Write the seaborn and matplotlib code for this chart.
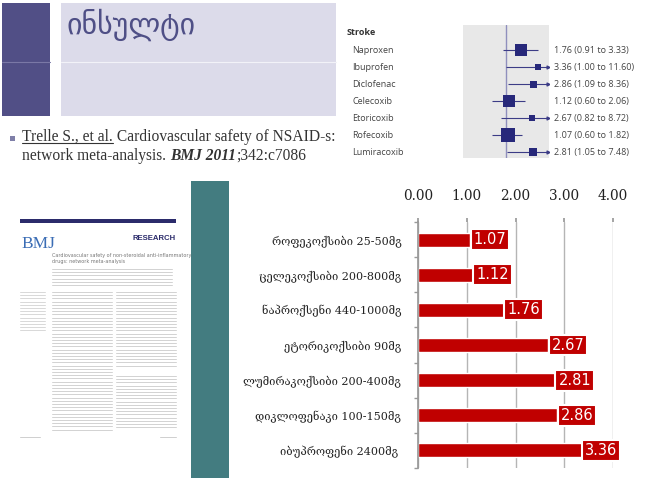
import matplotlib
matplotlib.use("Agg")
import matplotlib.pyplot as plt
import seaborn as sns
import numpy as np
import pandas as pd
from matplotlib.patches import Rectangle

# bar chart data (relative risk of stroke, Trelle et al. 2011)
drugs_ka = ["როფეკოქსიბი 25-50მგ", "ცელეკოქსიბი 200-800მგ", "ნაპროქსენი 440-1000მგ",
            "ეტორიკოქსიბი 90მგ", "ლუმირაკოქსიბი 200-400მგ", "დიკლოფენაკი 100-150მგ",
            "იბუპროფენი 2400მგ "]
rr_values = [1.07, 1.12, 1.76, 2.67, 2.81, 2.86, 3.36]
x_ticks = [0, 1, 2, 3, 4]

# forest plot data (cropped figure from the paper)
forest_drugs = ["Naproxen", "Ibuprofen", "Diclofenac", "Celecoxib",
                "Etoricoxib", "Rofecoxib", "Lumiracoxib"]
forest_est = [1.76, 3.36, 2.86, 1.12, 2.67, 1.07, 2.81]
forest_lo = [0.91, 1.00, 1.09, 0.60, 0.82, 0.60, 1.05]
forest_hi = [3.33, 11.60, 8.36, 2.06, 8.72, 1.82, 7.48]
forest_weight = [12, 6, 7, 12, 6, 14, 8]

W, H = 650, 486


def box(x0, y0, x1, y1):
    # pixel box (top-left origin) -> figure fraction
    return [x0 / W, 1 - y1 / H, (x1 - x0) / W, (y1 - y0) / H]


sns.set_theme(style="white")
plt.rcParams["font.family"] = ["DejaVu Sans"]

fig = plt.figure(figsize=(6.5, 4.86), dpi=100)
bg = fig.add_axes([0, 0, 1, 1])
bg.set_xlim(0, W)
bg.set_ylim(H, 0)
bg.axis("off")

# slide header
bg.add_patch(Rectangle((2, 3), 48, 113, fc="#514f86", lw=0))
bg.add_patch(Rectangle((61, 3), 275, 113, fc="#dcdbea", lw=0))
bg.plot([2, 50], [62, 62], color="#7a78a6", lw=0.8)
bg.plot([61, 336], [62, 62], color="#f2f2f8", lw=0.8)
bg.text(66, 25, "ინსულტი", fontsize=21.5, color="#4f4f86", va="center")

# citation
bg.add_patch(Rectangle((10, 136), 5, 5, fc="#7f7fa8", lw=0))
renderer = fig.canvas.get_renderer()


def run_text(x, y, pieces, underline_first=False):
    x_start = x
    for k, (s, kw) in enumerate(pieces):
        t = bg.text(x, y, s, va="baseline", fontsize=11.2, color="#333333",
                    family="Liberation Serif", **kw)
        bb = t.get_window_extent(renderer=renderer)
        x = bg.transData.inverted().transform((bb.x1, bb.y0))[0]
        if underline_first and k == 0:
            bg.plot([x_start, x], [y + 2, y + 2], color="#333333", lw=0.8)


run_text(22, 141, [("Trelle S., et al.", {}), (" Cardiovascular safety of NSAID-s:", {})],
         underline_first=True)
run_text(22, 160, [("network meta-analysis. ", {}),
                   ("BMJ 2011", {"weight": "bold", "style": "italic"}),
                   (";342:c7086", {})])

# teal block
bg.add_patch(Rectangle((191, 181), 38, 297, fc="#437c80", lw=0))

# thumbnail of the paper
bg.add_patch(Rectangle((20, 219), 156, 4, fc="#2b2b6b", lw=0))
bg.text(21, 248, "BMJ", family="Liberation Serif", fontsize=12.5, color="#3b6db5",
        va="baseline")
bg.text(176, 240, "RESEARCH", family="Liberation Sans", weight="bold", fontsize=5.6,
        color="#2b2b6b", ha="right", va="baseline")
bg.text(52, 257, "Cardiovascular safety of non-steroidal anti-inflammatory",
        fontsize=3.5, color="#777777", va="baseline")
bg.text(52, 263, "drugs: network meta-analysis", fontsize=3.5, color="#777777",
        va="baseline")


def text_lines(x0, x1, y0, y1, step=3.2, color="#d2d2d2"):
    for yy in np.arange(y0, y1, step):
        bg.plot([x0, x1], [yy, yy], color=color, lw=0.7)


text_lines(52, 172, 269, 286)
text_lines(20, 45, 292, 333, color="#d8d8d8")
text_lines(52, 112, 292, 430)
text_lines(116, 176, 292, 366)
text_lines(116, 176, 376, 430)
bg.plot([20, 40], [437, 437], color="#cfcfcf", lw=0.7)
bg.plot([160, 176], [437, 437], color="#cfcfcf", lw=0.7)

# forest plot
fa = fig.add_axes(box(463, 25, 549, 158))
fa.set_facecolor("#e8e8e8")
fa.set_xscale("log")
fa.set_xlim(0.198, 5.06)
rows = np.arange(len(forest_drugs))
fa.set_ylim(6.35, -1.47)
for s in fa.spines.values():
    s.set_visible(False)
fa.set_xticks([])
fa.set_yticks([])
fa.minorticks_off()
fa.axvline(1, color="#8f8fbd", lw=1)
hi_clip = np.minimum(forest_hi, 4.85)
fa.hlines(rows, forest_lo, hi_clip, color="#3c3c86", lw=0.8)
trunc = np.array(forest_hi) > 4.85
fa.scatter(hi_clip[trunc], rows[trunc], marker=">", s=4, color="#3c3c86", zorder=3)
fa.scatter(forest_est, rows, marker="s", s=(np.array(forest_weight) * 0.72) ** 2,
           color="#27287a", zorder=4, linewidths=0)
ytr = fa.get_yaxis_transform()
fa.text(-1.35, -1.05, "Stroke", transform=ytr, fontsize=6.5, weight="bold",
        color="#333333", family="Open Sans", va="center", clip_on=False)
for i, name in enumerate(forest_drugs):
    fa.text(-1.29, i, name, transform=ytr, fontsize=6.5, color="#444444",
            family="Open Sans", va="center", clip_on=False)
    fa.text(1.06, i, f"{forest_est[i]:.2f} ({forest_lo[i]:.2f} to {forest_hi[i]:.2f})",
            transform=ytr, fontsize=6.5, color="#444444", family="Open Sans",
            va="center", clip_on=False)

# bar chart
ax = fig.add_axes(box(418, 222, 613, 468))
df = pd.DataFrame({"drug": drugs_ka, "rr": rr_values})
sns.barplot(data=df, x="rr", y="drug", orient="h", color="#c00000", width=0.4,
            saturation=1, ax=ax)
ax.set_xlim(0, 4)
ax.set_ylim(6.5, -0.5)
ax.xaxis.tick_top()
ax.set_xticks(x_ticks)
ax.set_xticklabels([f"{t:.2f}" for t in x_ticks], fontfamily="DejaVu Serif",
                   fontsize=9.8, color="#222222")
ax.grid(axis="x", color="#b5b5b5", lw=1)
ax.set_axisbelow(True)
for side in ["top", "right", "bottom"]:
    ax.spines[side].set_visible(False)
ax.spines["left"].set_color("#999999")
ax.tick_params(axis="x", top=True, length=3, color="#999999", pad=11)
ax.set_yticks(np.arange(-0.5, 7, 1), minor=True)
ax.tick_params(axis="y", which="minor", left=True, length=3, color="#999999")
ax.tick_params(axis="y", which="major", length=0, pad=12)
for lbl in ax.get_yticklabels():
    lbl.set_fontfamily(["DejaVu Serif", "DejaVu Sans"])
    lbl.set_fontsize(8.0)
    lbl.set_color("#222222")
ax.set_xlabel("")
ax.set_ylabel("")
for i, v in enumerate(rr_values):
    ax.text(v + 0.07, i, f"{v:.2f}", ha="left", va="center", color="white",
            fontsize=10.5, clip_on=False,
            bbox=dict(boxstyle="square,pad=0.2", fc="#c00000", ec="white", lw=1.5))

fig.savefig("out.png", dpi=100)
